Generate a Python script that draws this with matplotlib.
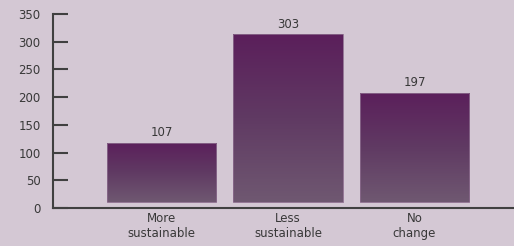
import numpy as np
import matplotlib
matplotlib.use('Agg')
import matplotlib.pyplot as plt
from matplotlib.colors import LinearSegmentedColormap

categories = ['More\nsustainable', 'Less\nsustainable', 'No\nchange']
counts = [107, 303, 197]
y_ticks = [0, 50, 100, 150, 200, 250, 300, 350]

BG = '#d4c8d4'
TEXT = '#383838'
AXIS = '#404040'
BASE = 11  # bars float a little above the axis line

grad = LinearSegmentedColormap.from_list('bar', ['#6f5871', '#603a63', '#5b1f5b'])

fig = plt.figure(figsize=(5.14, 2.46), dpi=100, facecolor=BG)
ax = fig.add_axes([53 / 514, 38 / 246, 461 / 514, 194 / 246])
ax.set_facecolor(BG)

x = np.arange(len(counts))
width = 0.862
bars = ax.bar(x, counts, width=width, bottom=BASE, color='none',
              edgecolor='#8a6a8c', linewidth=0.6, zorder=3)

g = np.linspace(0, 1, 256).reshape(-1, 1)
for b in bars:
    x0, y0 = b.get_x(), b.get_y()
    w, h = b.get_width(), b.get_height()
    im = ax.imshow(g, cmap=grad, origin='lower', aspect='auto',
                   extent=[x0, x0 + w, y0, y0 + h], zorder=2)
    im.set_clip_path(b)
    ax.text(x0 + w / 2, y0 + h + 6, str(int(h)), ha='center', va='bottom',
            fontsize=8.5, color=TEXT)

ax.set_xlim(-0.858, 2.787)
ax.set_ylim(0, 350)
ax.set_yticks(y_ticks)
ax.set_xticks(x)
ax.set_xticklabels(categories, fontsize=8.5, color=TEXT, linespacing=1.15)
ax.tick_params(axis='x', length=0, pad=3)
ax.tick_params(axis='y', direction='in', length=11, width=1.5, color=AXIS,
               labelsize=8.5, labelcolor=TEXT, pad=9)

for side in ['top', 'right']:
    ax.spines[side].set_visible(False)
for side in ['left', 'bottom']:
    ax.spines[side].set_color(AXIS)
    ax.spines[side].set_linewidth(1.5)

fig.savefig('out.png', dpi=100, facecolor=BG)
